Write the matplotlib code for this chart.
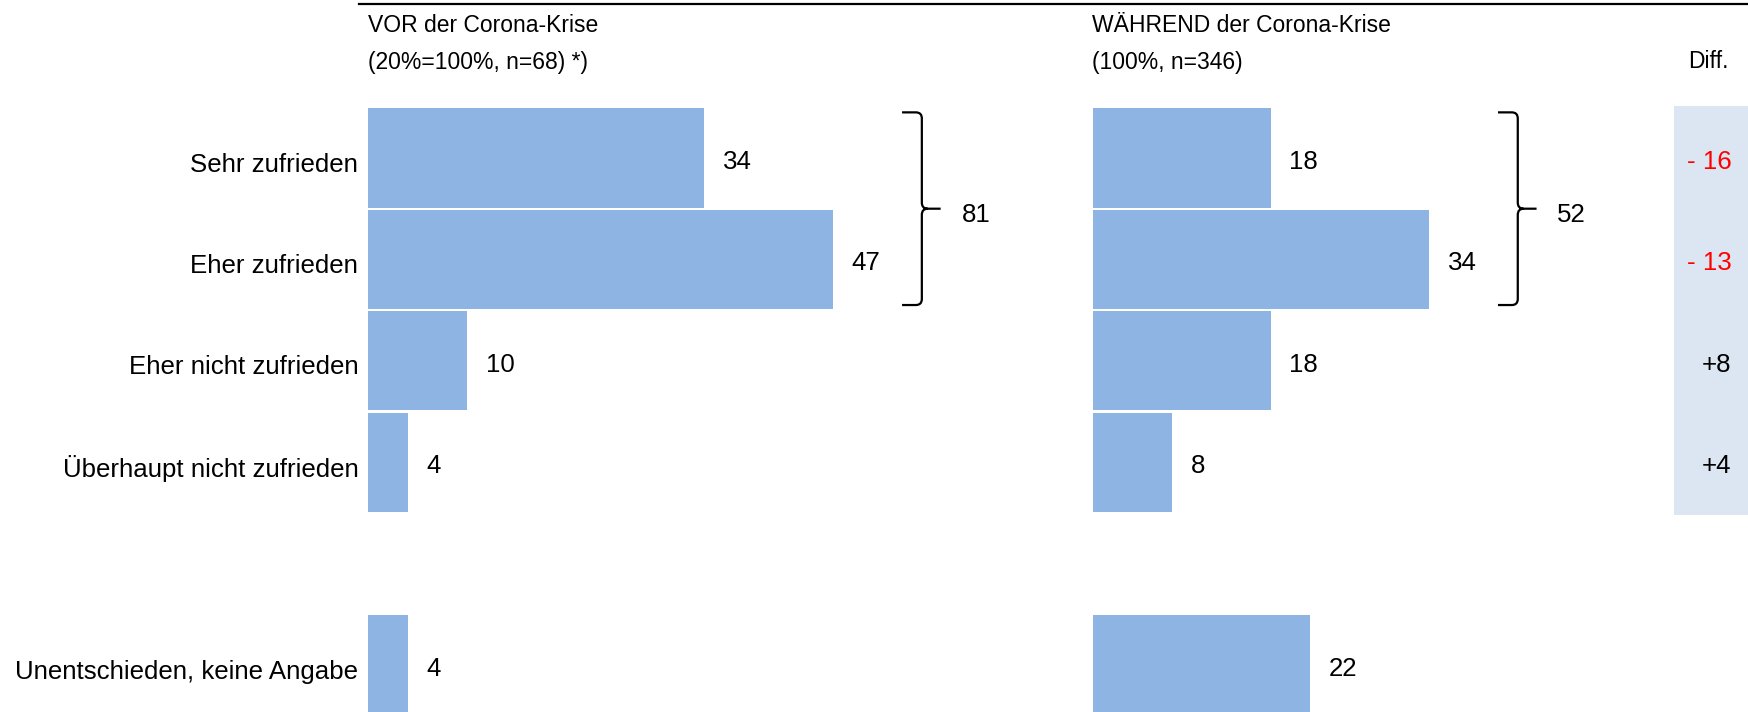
import numpy as np
import matplotlib.pyplot as plt
import matplotlib.transforms as mtransforms
from matplotlib.path import Path
from matplotlib.patches import PathPatch, Rectangle
from matplotlib.lines import Line2D

plt.rcParams['font.family'] = ['Liberation Sans', 'DejaVu Sans']

# ====================================================
categories = ["Sehr zufrieden", "Eher zufrieden", "Eher nicht zufrieden",
              "Überhaupt nicht zufrieden", "Unentschieden, keine Angabe"]
rows = [0, 1, 2, 3, 5]
vor = [34, 47, 10, 4, 4]
waehrend = [18, 34, 18, 8, 22]

title_vor = ["VOR der Corona-Krise", "(20%=100%, n=68) *)"]
title_waehrend = ["WÄHREND der Corona-Krise", "(100%, n=346)"]

bar_color = "#8EB4E3"
W, H = 1748, 712
px_per_unit = 9.89
row_px = 101.4
row0_px = 158
fs = 18.6
dy = 0.04  # text sits a little low in the original

fig = plt.figure(figsize=(W / 100, H / 100), dpi=100)

ylo = -row0_px / row_px
yhi = (H - row0_px) / row_px


def make_ax(left_px, width_px):
  ax = fig.add_axes([left_px / W, 0, width_px / W, 1])
  ax.set_xlim(0, width_px / px_per_unit)
  ax.set_ylim(yhi, ylo)
  for s in ax.spines.values():
    s.set_visible(False)
  ax.set_xticks([])
  ax.tick_params(axis="y", length=0)
  return ax


def bracket(ax, vals):
  top, bot, mid = -0.45, 1.45, 0.5
  m = max(vals[:2])
  x0, x1, x2 = m + 7, m + 9, m + 10.9
  rx, ry = 0.6, 0.06
  verts = [(x0, top), (x1 - rx, top), (x1, top), (x1, top + ry),
           (x1, mid - ry), (x1, mid), (x1 + rx, mid), (x2, mid),
           (x1 + rx, mid), (x1, mid), (x1, mid + ry),
           (x1, bot - ry), (x1, bot), (x1 - rx, bot), (x0, bot)]
  codes = [Path.MOVETO, Path.LINETO, Path.CURVE3, Path.CURVE3,
           Path.LINETO, Path.CURVE3, Path.CURVE3, Path.LINETO,
           Path.MOVETO, Path.CURVE3, Path.CURVE3,
           Path.LINETO, Path.CURVE3, Path.CURVE3, Path.LINETO]
  ax.add_patch(PathPatch(Path(verts, codes), fill=False, lw=1.6,
                         edgecolor="black", clip_on=False))
  ax.text(m + 13, mid + dy + 0.02, str(vals[0] + vals[1]), fontsize=fs,
          va="center", ha="left")


# left panel
ax1 = make_ax(368, 620)
ax1.barh(rows, vor, height=0.98, color=bar_color)
ax1.set_yticks(rows)
ax1.set_yticklabels(categories, fontsize=fs)
ax1.tick_params(axis="y", pad=7)
shift = mtransforms.ScaledTranslation(0, -3 / 72, fig.dpi_scale_trans)
for lab in ax1.get_yticklabels():
  lab.set_transform(lab.get_transform() + shift)
for r, v in zip(rows, vor):
  ax1.text(v + 1.9, r + dy, str(v), fontsize=fs, va="center", ha="left")
bracket(ax1, vor)

# right panel
ax2 = make_ax(1092.5, W - 1092.5)
ax2.barh(rows, waehrend, height=0.98, color=bar_color)
ax2.set_yticks([])
for r, v in zip(rows, waehrend):
  ax2.text(v + 1.9, r + dy, str(v), fontsize=fs, va="center", ha="left")
bracket(ax2, waehrend)

# diff column
ax2.add_patch(Rectangle((58.8, -0.51), 10, 4.03, facecolor="#DCE6F2",
                        edgecolor="none", clip_on=False, zorder=0))
for r, a, b in zip(rows[:4], vor[:4], waehrend[:4]):
  d = b - a
  if d < 0:
    ax2.text(64.6, r + dy, "- {}".format(-d), fontsize=fs, va="center",
             ha="right", color="#FF0000")
  else:
    ax2.text(64.6, r + dy, "+{}".format(d), fontsize=fs, va="center",
             ha="right", color="black")

# headers
for i, t in enumerate(title_vor):
  fig.text(368 / W, 1 - (25 + 37 * i) / H, t, fontsize=16.5, va="center",
           ha="left")
for i, t in enumerate(title_waehrend):
  fig.text(1092.5 / W, 1 - (25 + 37 * i) / H, t, fontsize=16.5,
           va="center", ha="left")
fig.text(1729 / W, 1 - 62 / H, "Diff.", fontsize=16.5, va="center",
         ha="right")

fig.add_artist(Line2D([359 / W, 1], [1 - 4 / H, 1 - 4 / H], color="black",
                      lw=1.6))

fig.savefig("out.png", dpi=100)
